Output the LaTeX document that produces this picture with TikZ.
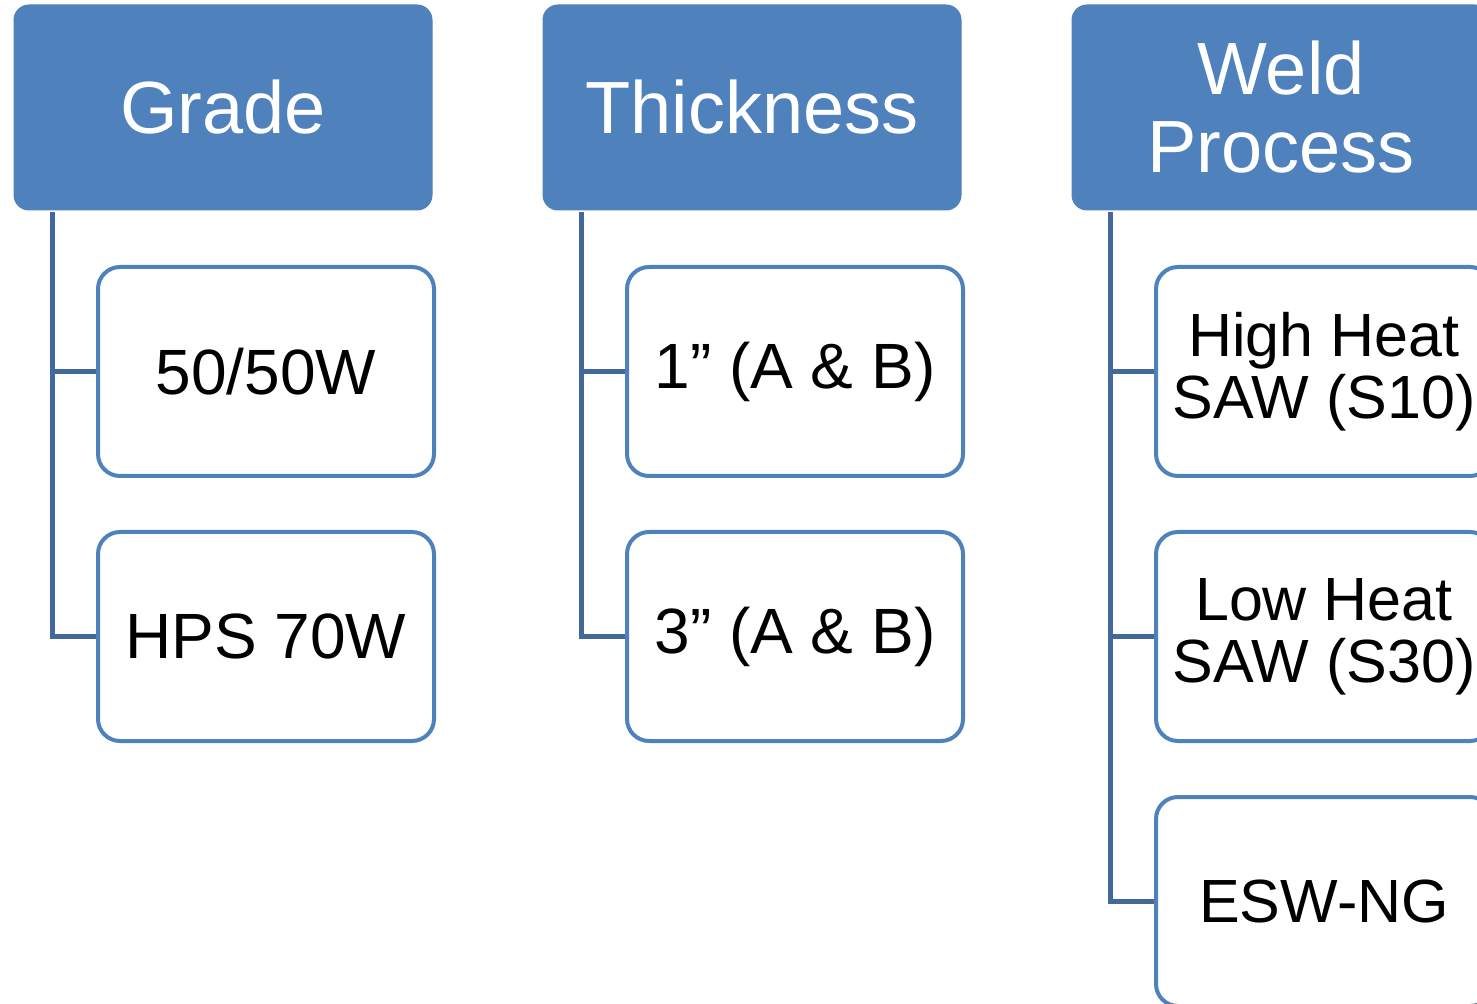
\documentclass[tikz,border=0pt]{standalone}
\usepackage{fontspec}
\setmainfont{Liberation Sans}
\definecolor{hdr}{HTML}{4F81BD}
\definecolor{conn}{HTML}{41699B}
\begin{document}
\begin{tikzpicture}[x=0.5pt,y=-0.5pt,
  head/.style={rectangle, rounded corners=7.5pt, fill=hdr, draw=hdr, line width=0.5pt,
    minimum width=209pt, minimum height=102.5pt, inner sep=0pt, text=white,
    align=center, font=\fontsize{37}{39}\selectfont},
  kid/.style={rectangle, rounded corners=11pt, fill=white, draw=hdr, line width=2pt,
    minimum width=168pt, minimum height=104.5pt, inner sep=0pt, text=black,
    align=center, font=\fontsize{32}{33}\selectfont},
  kidw/.style={kid, font=\fontsize{30.5}{31}\selectfont},
  link/.style={draw=conn, line width=2.2pt}]
\useasboundingbox (0,0) rectangle (1477,1004);
\clip (0,0) rectangle (1477,1004);
% headers
\node[head] (g) at (223,107.5) {Grade};
\node[head] (t) at (752,107.5) {Thickness};
\node[head] (w) at (1281,107.5) {Weld\\Process};
% children
\node[kid] (g1) at (266,371.5) {50/50W};
\node[kid] (g2) at (266,636.5) {HPS 70W};
\node[kid] (t1) at (795,371.5) {1” (A \& B)};
\node[kid] (t2) at (795,636.5) {3” (A \& B)};
\node[kidw] (w1) at (1324,371.5) {High Heat\\SAW (S10)};
\node[kidw] (w2) at (1324,636.5) {Low Heat\\SAW (S30)};
\node[kidw] (w3) at (1324,901.5) {ESW-NG};
% connectors
\coordinate (gs) at ([xshift=19.5pt,yshift=-1pt]g.south west);
\coordinate (ts) at ([xshift=19.5pt,yshift=-1pt]t.south west);
\coordinate (ws) at ([xshift=19.5pt,yshift=-1pt]w.south west);
\draw[link] (gs) |- (g1.west);
\draw[link] (gs) |- (g2.west);
\draw[link] (ts) |- (t1.west);
\draw[link] (ts) |- (t2.west);
\draw[link] (ws) |- (w1.west);
\draw[link] (ws) |- (w2.west);
\draw[link] (ws) |- (w3.west);
\end{tikzpicture}
\end{document}
